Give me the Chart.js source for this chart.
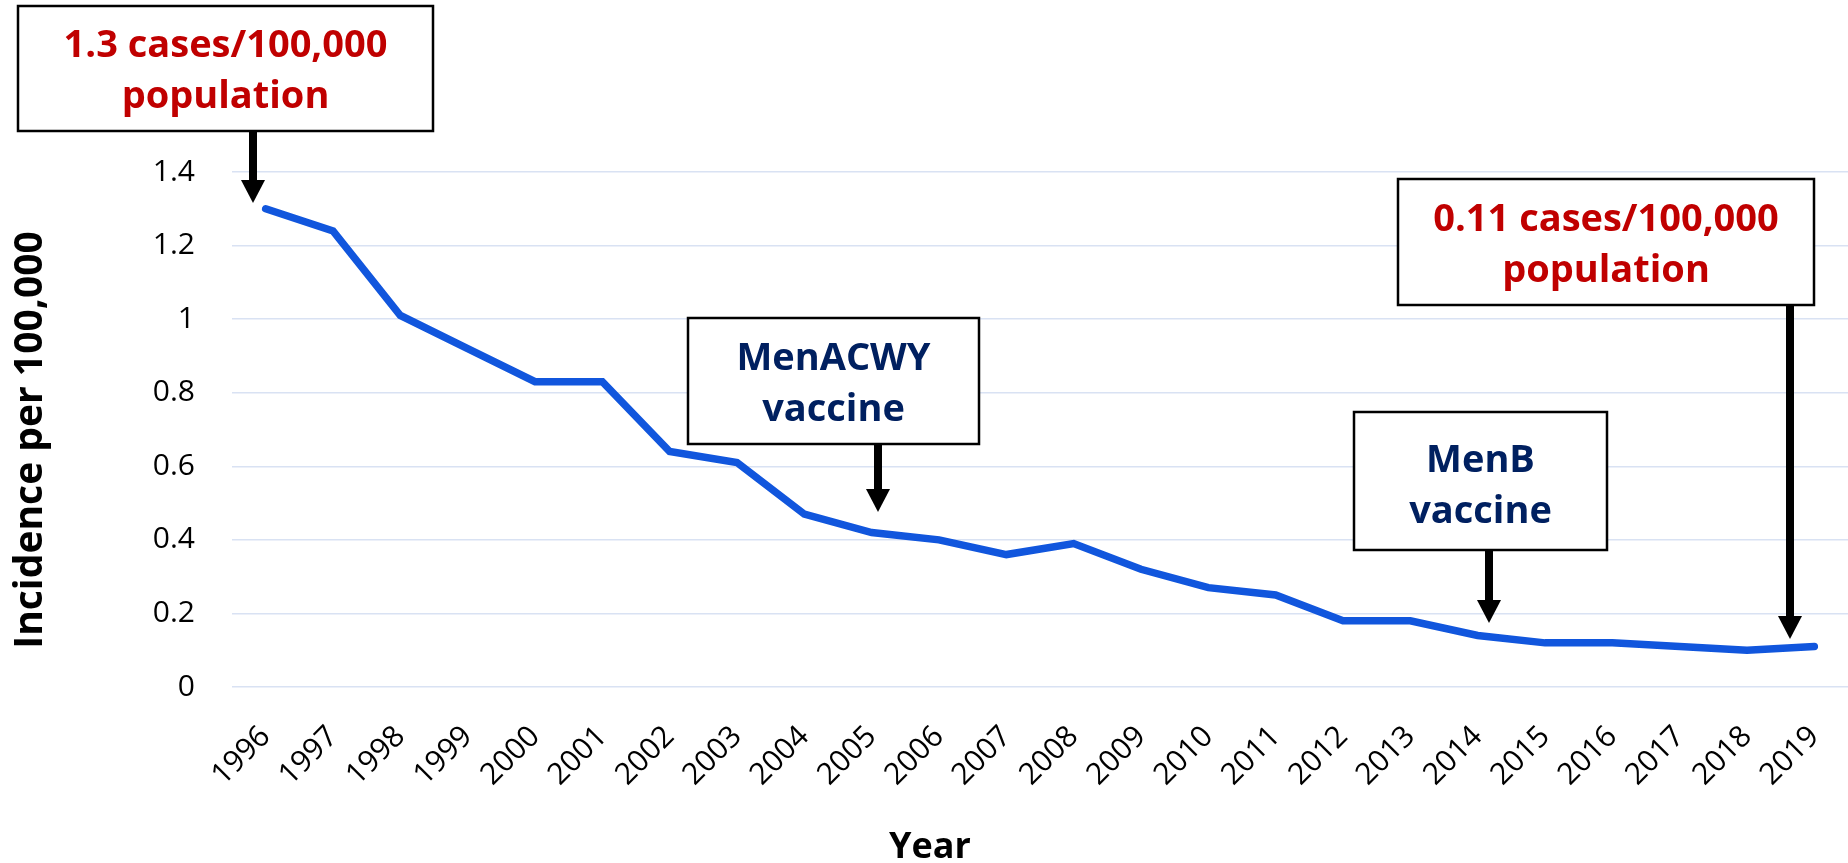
<!DOCTYPE html>
<html>
<head>
<meta charset="utf-8">
<script src="https://cdn.jsdelivr.net/npm/chart.js@4.4.1/dist/chart.umd.min.js"></script>
<style>
  html, body { margin: 0; padding: 0; background: #fff; }
  #wrap { width: 1848px; height: 863px; }
</style>
</head>
<body>
<div id="wrap"><canvas id="chart" width="1848" height="863"></canvas></div>
<script>
const years = ['1996', '1997', '1998', '1999', '2000', '2001', '2002', '2003', '2004', '2005', '2006', '2007',
  '2008', '2009', '2010', '2011', '2012', '2013', '2014', '2015', '2016', '2017', '2018', '2019'];
const incidence = [1.30, 1.24, 1.01, 0.92, 0.83, 0.83, 0.64, 0.61, 0.47, 0.42, 0.40, 0.36,
  0.39, 0.32, 0.27, 0.25, 0.18, 0.18, 0.14, 0.12, 0.12, 0.11, 0.10, 0.11];
const yTickLabels = ['0', '0.2', '0.4', '0.6', '0.8', '1', '1.2', '1.4'];

const RED = '#C00000';
const NAVY = '#002060';
const FONT = '"Open Sans", "Noto Sans", sans-serif';

// callout boxes and arrows (canvas pixels)
const callouts = [
  { box: [18, 6, 415, 125], lines: ['1.3 cases/100,000', 'population'], color: RED, dy: 14,
    arrow: { x: 253, y0: 131, y1: 203 } },
  { box: [688, 318, 291, 126], lines: ['MenACWY', 'vaccine'], color: NAVY, dy: 14,
    arrow: { x: 878, y0: 444, y1: 512 } },
  { box: [1354, 412, 253, 138], lines: ['MenB', 'vaccine'], color: NAVY, dy: 16,
    arrow: { x: 1489, y0: 550, y1: 623 } },
  { box: [1398, 179, 416, 126], lines: ['0.11 cases/100,000', 'population'], color: RED, dy: 14,
    arrow: { x: 1790, y0: 305, y1: 639 } }
];

function drawArrow(ctx, a) {
  const headH = 23, headW = 24;
  ctx.fillStyle = '#000';
  ctx.fillRect(a.x - 4, a.y0, 8, a.y1 - a.y0 - headH + 1);
  ctx.beginPath();
  ctx.moveTo(a.x - headW / 2, a.y1 - headH);
  ctx.lineTo(a.x + headW / 2, a.y1 - headH);
  ctx.lineTo(a.x, a.y1);
  ctx.closePath();
  ctx.fill();
}

const annotations = {
  id: 'annotations',
  afterDraw(chart) {
    const ctx = chart.ctx;
    ctx.save();

    // axis titles
    ctx.fillStyle = '#000';
    ctx.font = 'bold 36px ' + FONT;
    ctx.textAlign = 'center';
    ctx.textBaseline = 'alphabetic';
    ctx.fillText('Year', 930, 858);

    ctx.save();
    ctx.translate(42, 440);
    ctx.rotate(-Math.PI / 2);
    ctx.font = 'bold 39px ' + FONT;
    ctx.fillText('Incidence per 100,000', 0, 0);
    ctx.restore();

    callouts.forEach(c => {
      const [x, y, w, h] = c.box;
      ctx.fillStyle = '#fff';
      ctx.fillRect(x, y, w, h);
      ctx.strokeStyle = '#000';
      ctx.lineWidth = 2.5;
      ctx.strokeRect(x, y, w, h);
      ctx.fillStyle = c.color;
      ctx.font = 'bold 38px ' + FONT;
      ctx.textAlign = 'center';
      const cx = x + w / 2, cy = y + h / 2 + c.dy;
      ctx.fillText(c.lines[0], cx, cy - 25.5);
      ctx.fillText(c.lines[1], cx, cy + 25.5);
      drawArrow(ctx, c.arrow);
    });
    ctx.restore();
  }
};

new Chart(document.getElementById('chart'), {
  type: 'line',
  data: {
    labels: years,
    datasets: [{
      label: 'Incidence',
      data: incidence,
      borderColor: '#1156DD',
      borderWidth: 7.5,
      borderCapStyle: 'round',
      pointRadius: 0,
      fill: false,
      tension: 0
    }]
  },
  options: {
    responsive: false,
    animation: false,
    devicePixelRatio: 1,
    layout: { padding: { top: 172, right: 0, bottom: 0, left: 0 } },
    plugins: {
      legend: { display: false },
      tooltip: { enabled: false }
    },
    scales: {
      x: {
        offset: true,
        grid: { display: false, drawTicks: false },
        border: { display: false },
        ticks: {
          color: '#000',
          font: { family: FONT, size: 30 },
          autoSkip: false,
          minRotation: 45,
          maxRotation: 45,
          padding: 32
        },
        afterFit: s => { s.height = 176; s.paddingLeft = 0; s.paddingRight = 0; }
      },
      y: {
        min: 0,
        max: 1.4,
        grid: { color: '#D9E2F3', lineWidth: 1.5, drawTicks: false },
        border: { display: false },
        ticks: {
          stepSize: 0.2,
          color: '#000',
          font: { family: FONT, size: 30 },
          padding: 37,
          callback: (v, i) => yTickLabels[i]
        },
        afterFit: s => { s.width = 232; }
      }
    }
  },
  plugins: [annotations]
});
</script>
</body>
</html>
